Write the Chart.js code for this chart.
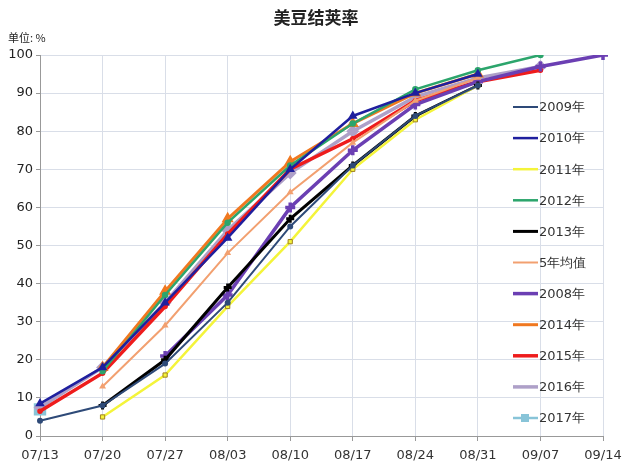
<!DOCTYPE html>
<html>
<head>
    <title>美豆结荚率</title>
    <script src="https://cdn.jsdelivr.net/npm/chart.js"></script>
    <style>
        html, body { margin: 0; padding: 0; background: #fff; }
        #wrap { width: 629px; height: 470px; position: relative; }
    </style>
</head>
<body>
<div id="wrap"><canvas id="podChart"></canvas></div>
<script>
    // category labels (weeks)
    const weeks = ['07/13', '07/20', '07/27', '08/03', '08/10', '08/17', '08/24', '08/31', '09/07', '09/14'];

    // series values, % of pods set
    const y2009 = [4, 8, 19, 35, 55, 71, 84, 92, null, null];
    const y2010 = [8.5, 18, 35, 52, 70, 84, 90, 95, null, null];
    const y2011 = [null, 5, 16, 34, 51, 70, 83, 92, null, null];
    const y2012 = [null, 17, 37, 56, 71, 82, 91, 96, 100, null];
    const y2013 = [null, 8, 20, 39, 57, 71, 84, 92, null, null];
    const avg5 = [null, 13, 29, 48, 64, 77, 88, 94, null, null];
    const y2008 = [null, null, 21, 37, 60, 75, 87, 93, 97, 100];
    const y2014 = [null, 18, 38, 57, 72, 82, 90, 95, null, null];
    const y2015 = [6.5, 16.5, 34, 53, 70, 78, 88, 93, 96, null];
    const y2016 = [7.5, 18, 35, 54, 69, 80, 89, 94, 97, null];
    const y2017 = [7, null, null, null, null, null, null, null, null, null];

    const yTicks = [0, 10, 20, 30, 40, 50, 60, 70, 80, 90, 100];

    function series(label, data, color, extra) {
        return Object.assign({
            label: label,
            data: data,
            borderColor: color,
            backgroundColor: color,
            borderWidth: 2.5,
            pointRadius: 2,
            pointStyle: 'circle',
            tension: 0,
            fill: false
        }, extra || {});
    }

    // draw the legend inside the plot area like the original
    const insideLegend = {
        id: 'insideLegend',
        afterDraw(chart) {
            const ctx = chart.ctx;
            const sets = chart.data.datasets;
            ctx.save();
            ctx.font = '13px "DejaVu Sans", sans-serif';
            ctx.textBaseline = 'middle';
            ctx.fillStyle = '#333';
            for (let i = 0; i < sets.length; i++) {
                const y = 107 + i * 31.1;
                ctx.strokeStyle = sets[i].borderColor;
                ctx.lineWidth = sets[i].borderWidth;
                ctx.beginPath();
                ctx.moveTo(513, y);
                ctx.lineTo(538, y);
                ctx.stroke();
                if (sets[i].legendMark) {
                    ctx.fillStyle = sets[i].backgroundColor;
                    ctx.fillRect(521, y - 4, 8, 8);
                    ctx.fillStyle = '#333';
                }
                ctx.fillText(sets[i].label, 539, y + 1);
            }
            // title and unit
            ctx.textAlign = 'center';
            ctx.fillStyle = '#222';
            ctx.font = 'bold 17px "Noto Sans CJK SC", sans-serif';
            ctx.fillText('美豆结荚率', 316, 18);
            ctx.textAlign = 'left';
            ctx.font = '11px "Noto Sans CJK SC", sans-serif';
            ctx.fillText('单位: %', 8, 38);
            ctx.restore();
        }
    };

    const ctx = document.getElementById('podChart').getContext('2d');
    const podChart = new Chart(ctx, {
        type: 'line',
        data: {
            labels: weeks,
            datasets: [
                series('2009年', y2009, '#2e4a78', { borderWidth: 2 }),
                series('2010年', y2010, '#1f1f9e', { pointStyle: 'triangle', pointRadius: 3 }),
                series('2011年', y2011, '#f4f43a', { pointStyle: 'rect', pointRadius: 3, pointBorderColor: '#a08020', pointBorderWidth: 1 }),
                series('2012年', y2012, '#2ca56c'),
                series('2013年', y2013, '#000000', { borderWidth: 3, pointStyle: 'cross', pointRadius: 4 }),
                series('5年均值', avg5, '#f2a070', { borderWidth: 2, pointStyle: 'triangle', pointRadius: 2 }),
                series('2008年', y2008, '#6b3fb3', { borderWidth: 3.5, pointStyle: 'cross', pointRadius: 5 }),
                series('2014年', y2014, '#f07820', { borderWidth: 3, pointStyle: 'triangle', pointRadius: 4 }),
                series('2015年', y2015, '#ee1c1c', { borderWidth: 3.5, pointRadius: 1 }),
                series('2016年', y2016, '#aea0c8', { borderWidth: 3.5, pointStyle: 'rectRot', pointRadius: 4 }),
                series('2017年', y2017, '#88c4d8', { pointStyle: 'rect', pointRadius: 7, legendMark: true })
            ]
        },
        options: {
            responsive: true,
            maintainAspectRatio: false,
            animation: false,
            layout: { padding: { top: 55, right: 26, left: 0, bottom: 0 } },
            plugins: {
                legend: { display: false },
                title: { display: false },
                tooltip: { enabled: false }
            },
            scales: {
                x: {
                    offset: false,
                    afterFit(scale) { scale.height = 34; },
                    grid: { color: '#d9dee8', tickLength: 5, drawOnChartArea: true, tickColor: '#999' },
                    border: { color: '#999' },
                    ticks: {
                        color: '#333',
                        font: { size: 13, family: '"DejaVu Sans", sans-serif' },
                        maxRotation: 0,
                        autoSkip: false,
                        padding: 7
                    }
                },
                y: {
                    min: 0,
                    max: 100,
                    afterFit(scale) { scale.width = 40; },
                    afterBuildTicks(scale) { scale.ticks = yTicks.map(v => ({ value: v })); },
                    grid: { color: '#d9dee8', tickLength: 4, tickColor: '#999' },
                    border: { color: '#999' },
                    ticks: {
                        color: '#222',
                        font: { size: 13, family: '"DejaVu Sans", sans-serif' },
                        padding: 3
                    }
                }
            }
        },
        plugins: [insideLegend]
    });
</script>
</body>
</html>
